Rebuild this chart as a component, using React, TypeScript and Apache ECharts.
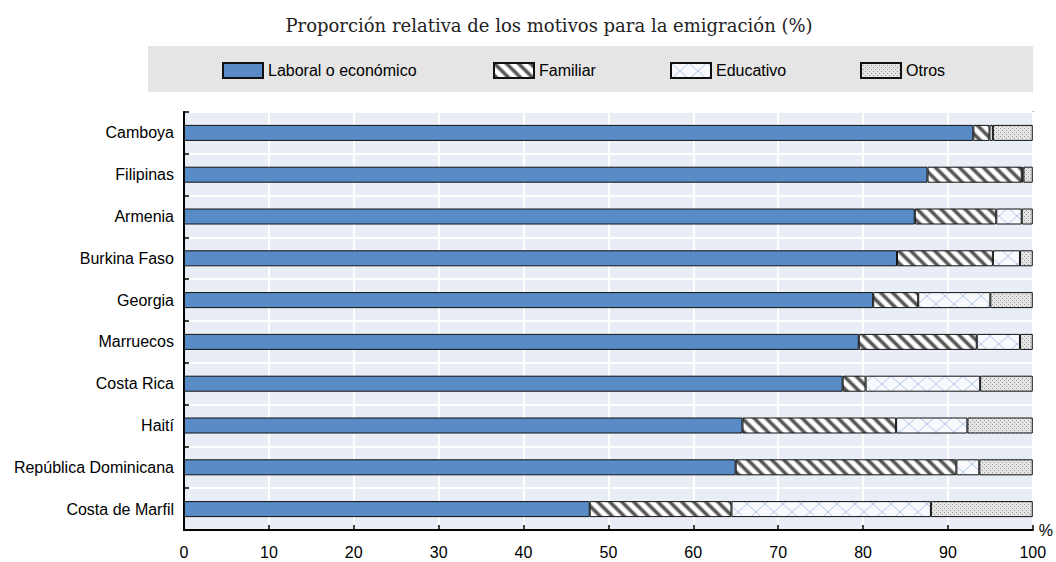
import React, { useEffect, useRef } from "react";
import * as echarts from "echarts";

const categories = [
  "Camboya",
  "Filipinas",
  "Armenia",
  "Burkina Faso",
  "Georgia",
  "Marruecos",
  "Costa Rica",
  "Haití",
  "República Dominicana",
  "Costa de Marfil",
];
const seriesNames = ["Laboral o económico", "Familiar", "Educativo", "Otros"];
const laboral = [93.0, 87.6, 86.1, 84.0, 81.2, 79.5, 77.6, 65.8, 65.0, 47.8];
const familiar = [1.9, 11.1, 9.6, 11.3, 5.3, 13.9, 2.7, 18.1, 26.0, 16.7];
const educativo = [0.4, 0.2, 3.0, 3.2, 8.5, 5.1, 13.5, 8.4, 2.7, 23.5];
const otros = [4.7, 1.1, 1.3, 1.5, 5.0, 1.5, 6.2, 7.7, 6.3, 12.0];
const subtitle = "Proporción relativa de los motivos para la emigración (%)";

function makeCanvas(w: number, h: number, draw: (c: CanvasRenderingContext2D) => void) {
  const cv = document.createElement("canvas");
  cv.width = w;
  cv.height = h;
  const ctx = cv.getContext("2d") as CanvasRenderingContext2D;
  draw(ctx);
  return { image: cv, repeat: "repeat", imageWidth: w, imageHeight: h };
}

export default function App() {
  const ref = useRef<HTMLDivElement>(null);
  useEffect(() => {
    if (!ref.current) return;
    const chart = echarts.init(ref.current, undefined, { renderer: "svg" });

    const stripe = makeCanvas(12, 12, (c) => {
      c.fillStyle = "#ffffff";
      c.fillRect(0, 0, 12, 12);
      for (const k of [-1, 0, 1]) {
        c.strokeStyle = "#a8a8a8";
        c.lineWidth = 4.5;
        c.beginPath();
        c.moveTo(k * 12 - 2, -2);
        c.lineTo(k * 12 + 14, 14);
        c.stroke();
        c.strokeStyle = "#555555";
        c.lineWidth = 2.4;
        c.beginPath();
        c.moveTo(k * 12 - 2, -2);
        c.lineTo(k * 12 + 14, 14);
        c.stroke();
      }
    });
    const cross = makeCanvas(18, 16, (c) => {
      c.fillStyle = "#f7f9fd";
      c.fillRect(0, 0, 18, 16);
      c.strokeStyle = "#b4c6e8";
      c.lineWidth = 1;
      c.beginPath();
      c.moveTo(0, 0);
      c.lineTo(18, 16);
      c.moveTo(18, 0);
      c.lineTo(0, 16);
      c.stroke();
    });
    const dots = makeCanvas(4, 4, (c) => {
      c.fillStyle = "#e4e4e4";
      c.fillRect(0, 0, 4, 4);
      c.fillStyle = "#9a9a9a";
      c.fillRect(0, 0, 1, 1);
      c.fillRect(2, 2, 1, 1);
    });

    const colors: any[] = ["#598bc7", stripe, cross, dots];
    const data = [laboral, familiar, educativo, otros];
    const legendLefts = [222, 493, 670, 860];

    const font = "Liberation Sans, Arial, sans-serif";

    chart.setOption({
      animation: false,
      graphic: [
        {
          type: "rect",
          shape: { x: 148, y: 46, width: 885, height: 46 },
          style: { fill: "#e5e5e5" },
          z: -10,
        },
        {
          type: "text",
          x: 549,
          y: 25,
          style: {
            text: subtitle,
            fontFamily: "DejaVu Serif, serif",
            fontSize: 18,
            fill: "#222",
            textAlign: "center",
            textVerticalAlign: "middle",
          },
        },
      ],
      legend: seriesNames.map((n, i) => ({
        data: [n],
        left: legendLefts[i],
        top: 62,
        padding: 0,
        itemWidth: 40,
        itemHeight: 15,
        itemGap: 6,
        icon: "rect",
        textStyle: { fontFamily: font, fontSize: 16, color: "#000" },
      })),
      grid: {
        left: 184,
        right: 23,
        top: 112,
        bottom: 32,
        show: true,
        backgroundColor: "#e9edf6",
        borderColor: "#000",
        borderWidth: 1.5,
      },
      xAxis: {
        type: "value",
        min: 0,
        max: 100,
        interval: 10,
        name: "%",
        nameLocation: "end",
        nameGap: 6,
        nameTextStyle: { fontFamily: font, fontSize: 16, color: "#000" },
        axisLine: { show: true, lineStyle: { color: "#000", width: 2 } },
        axisTick: { show: true, inside: true, length: 5, lineStyle: { color: "#000", width: 1.5 } },
        axisLabel: { fontFamily: font, fontSize: 16, color: "#000", margin: 14 },
        splitLine: { show: true, lineStyle: { color: "#ffffff", width: 2 } },
      },
      yAxis: {
        type: "category",
        data: categories,
        inverse: true,
        axisLine: { show: true, lineStyle: { color: "#000", width: 2 } },
        axisTick: { show: true, inside: true, length: 5, lineStyle: { color: "#000", width: 1.5 } },
        axisLabel: { fontFamily: font, fontSize: 16, color: "#000", margin: 10 },
        splitLine: { show: true, lineStyle: { color: "#ffffff", width: 2 } },
      },
      series: seriesNames.map((n, i) => ({
        name: n,
        type: "bar",
        stack: "total",
        barWidth: 16,
        data: data[i],
        itemStyle: { color: colors[i], borderColor: "#111", borderWidth: 1 },
      })),
    });
    return () => chart.dispose();
  }, []);
  return (
    <div
      ref={ref}
      style={{ position: "absolute", left: 0, top: 0, width: 1056, height: 562 }}
    />
  );
}
